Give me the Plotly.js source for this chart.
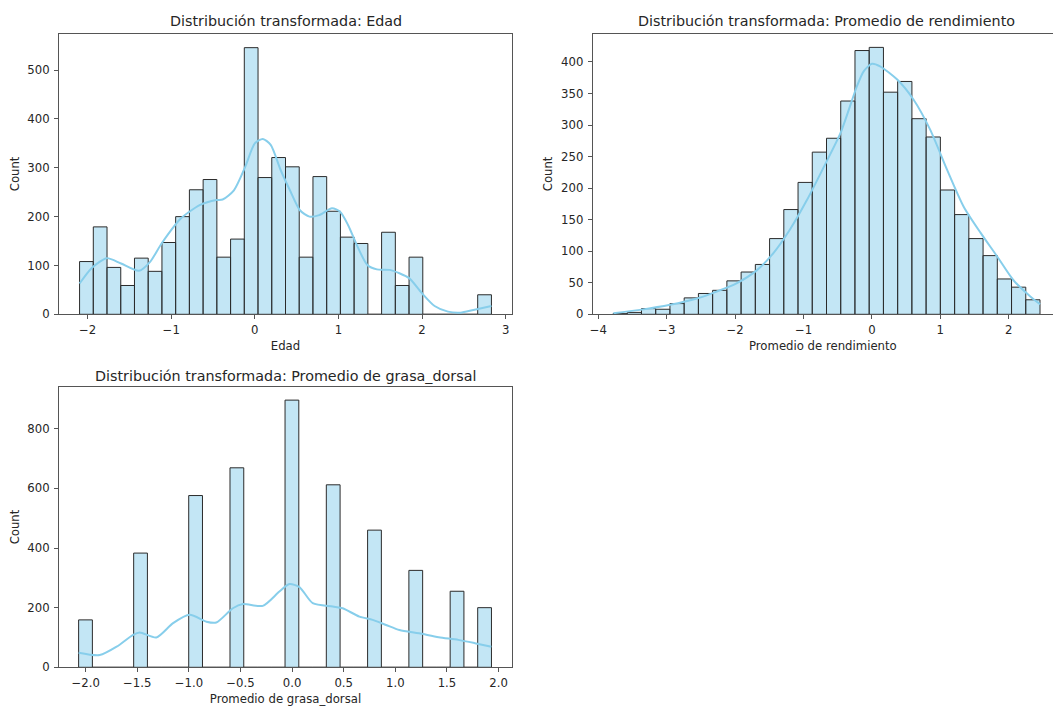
<!DOCTYPE html>
<html>
<head>
<meta charset="utf-8">
<script src="https://cdn.plot.ly/plotly-3.0.1.min.js"></script>
<style>html,body{margin:0;padding:0;background:#fff;}#chart{width:1053px;height:707px;}</style>
</head>
<body>
<div id="chart"></div>
<script>
// ---------- Data ----------
const titles = ["Distribución transformada: Edad", "Distribución transformada: Promedio de rendimiento", "Distribución transformada: Promedio de grasa_dorsal"];
const xLabels = ["Edad", "Promedio de rendimiento", "Promedio de grasa_dorsal"];
const yLabel = "Count";

// Edad histogram (30 bins)
const edadBinStart = -2.096;
const edadBinWidth = 0.1642;
const edadCounts = [108,179,96,59,115,88,147,200,255,276,117,154,546,280,321,302,117,282,211,158,145,0,168,59,117,0,0,0,0,40];
const edadKdeX = [-2.096,-1.95,-1.77,-1.6,-1.385,-1.25,-1.115,-0.885,-0.654,-0.46,-0.385,-0.25,-0.115,0,0.096,0.19,0.31,0.42,0.54,0.654,0.77,0.923,1.02,1.115,1.23,1.346,1.46,1.615,1.73,1.846,2.0,2.15,2.31,2.46,2.615,2.83];
const edadKdeY = [63,95,115,104,89,108,145,196,224,234,235,254,302,350,359,347,295,254,213,200,203,217,210,183,138,101,92,91,84,74,43,17,5.5,3.4,9,17];

// Promedio de rendimiento histogram (30 bins)
const rendBinStart = -3.785;
const rendBinWidth = 0.2081;
const rendCounts = [1,3,9,8,17,26,33,38,53,67,79,120,166,209,257,279,338,418,423,352,369,310,281,197,158,120,93,56,43,23];
const rendKdeX = [-3.78,-3.39,-2.95,-2.56,-2.27,-1.98,-1.68,-1.44,-1.2,-0.95,-0.71,-0.46,-0.22,-0.12,0,0.12,0.37,0.61,0.85,1.1,1.34,1.59,1.83,2.07,2.32,2.46];
const rendKdeY = [1.6,7,15,25,36,49,70,97,134,181,232,287,361,385,397,393,372,340,293,229,171,129,92,54,28,16];

// Promedio de grasa_dorsal histogram (30 bins)
const grasaBinStart = -2.068;
const grasaBinWidth = 0.1333;
const grasaCounts = [159,0,0,0,383,0,0,0,576,0,0,669,0,0,0,896,0,0,612,0,0,460,0,0,325,0,0,255,0,200];
const grasaKdeX = [-2.068,-1.864,-1.70,-1.54,-1.476,-1.315,-1.153,-0.992,-0.83,-0.735,-0.574,-0.477,-0.284,-0.123,-0.026,0.071,0.2,0.394,0.49,0.652,0.78,0.91,1.04,1.23,1.42,1.61,1.77,1.93];
const grasaKdeY = [49,41,69,109,117,100,148,176,153,150,198,212,206,254,279,269,215,204,198,170,159,142,125,114,101,92,81,69];

// ---------- Styling ----------
const W = 1053, H = 707;
const FONT = "DejaVu Sans";
const TXT = "#262626";
const FRAME = "#555555";
const BAR_FILL = "rgba(135,206,235,0.5)";
const BAR_EDGE = "#2b2b2b";
const KDE = "#87CEEB";

function centers(start, w, n) { const c = []; for (let i = 0; i < n; i++) c.push(start + (i + 0.5) * w); return c; }
function px2x(p) { return p / W; }
function px2y(p) { return 1 - p / H; }

function histTrace(start, w, counts, xa, ya) {
  return { type: "bar", x: centers(start, w, counts.length), y: counts, width: w,
    marker: { color: BAR_FILL, line: { color: BAR_EDGE, width: 1 } },
    xaxis: xa, yaxis: ya, hoverinfo: "x+y", showlegend: false };
}
function kdeTrace(xs, ys, xa, ya) {
  return { type: "scatter", mode: "lines", x: xs, y: ys, line: { color: KDE, width: 2, shape: "spline", smoothing: 0.7 },
    xaxis: xa, yaxis: ya, hoverinfo: "skip", showlegend: false };
}

const data = [
  histTrace(edadBinStart, edadBinWidth, edadCounts, "x", "y"),
  kdeTrace(edadKdeX, edadKdeY, "x", "y"),
  histTrace(rendBinStart, rendBinWidth, rendCounts, "x2", "y2"),
  kdeTrace(rendKdeX, rendKdeY, "x2", "y2"),
  histTrace(grasaBinStart, grasaBinWidth, grasaCounts, "x3", "y3"),
  kdeTrace(grasaKdeX, grasaKdeY, "x3", "y3")
];

const tickFont = { family: FONT, size: 11.7, color: TXT };
const labFont = { family: FONT, size: 11.7, color: TXT };
function xAxis(domain, range, tickvals, fmt, title, anchor, mirror) {
  return { domain: domain, range: range, anchor: anchor, tickmode: "array", tickvals: tickvals, tickformat: fmt,
    ticks: "outside", ticklen: 4, tickwidth: 1, tickcolor: FRAME, showline: true, mirror: mirror, linecolor: FRAME, linewidth: 1,
    showgrid: false, zeroline: false, tickfont: tickFont, ticklabelstandoff: 1,
    title: { text: title, font: labFont, standoff: 5 } };
}
function yAxis(domain, range, dtick, anchor, mirror) {
  return { domain: domain, range: range, anchor: anchor, dtick: dtick, tick0: 0,
    ticks: "outside", ticklen: 4, tickwidth: 1, tickcolor: FRAME, showline: true, mirror: mirror, linecolor: FRAME, linewidth: 1,
    showgrid: false, zeroline: false, tickfont: tickFont, ticklabelstandoff: 2,
    title: { text: yLabel, font: labFont, standoff: 5 } };
}

const topRowY = [px2y(314.3), px2y(33.5)];
const botRowY = [px2y(667.3), px2y(386.7)];
const leftX = [px2x(59), px2x(512)];
const rightX = [px2x(592.7), 1];

const layout = {
  width: W, height: H, margin: { l: 0, r: 0, t: 0, b: 0 },
  paper_bgcolor: "#ffffff", plot_bgcolor: "#ffffff",
  font: { family: FONT, color: TXT }, bargap: 0, showlegend: false,
  xaxis: xAxis(leftX, [-2.342, 3.076], [-2,-1,0,1,2,3], "d", xLabels[0], "y", true),
  yaxis: yAxis(topRowY, [0, 575], 100, "x", true),
  xaxis2: xAxis(rightX, [-4.082, 2.648], [-4,-3,-2,-1,0,1,2], "d", xLabels[1], "y2", true),
  yaxis2: yAxis(topRowY, [0, 445], 50, "x2", false),
  xaxis3: xAxis(leftX, [-2.258, 2.13], [-2,-1.5,-1,-0.5,0,0.5,1,1.5,2], ".1f", xLabels[2], "y3", true),
  yaxis3: yAxis(botRowY, [0, 941], 200, "x3", true),
  annotations: [
    { text: titles[0], x: px2x(285.5), y: px2y(21.5), xref: "paper", yref: "paper", xanchor: "center", yanchor: "middle", showarrow: false, font: { family: FONT, size: 14.3, color: TXT } },
    { text: titles[1], x: px2x(826.5), y: px2y(21.5), xref: "paper", yref: "paper", xanchor: "center", yanchor: "middle", showarrow: false, font: { family: FONT, size: 14.3, color: TXT } },
    { text: titles[2], x: px2x(285.5), y: px2y(375.5), xref: "paper", yref: "paper", xanchor: "center", yanchor: "middle", showarrow: false, font: { family: FONT, size: 14.3, color: TXT } }
  ]
};

Plotly.newPlot("chart", data, layout, { staticPlot: true, displayModeBar: false });
</script>
</body>
</html>
